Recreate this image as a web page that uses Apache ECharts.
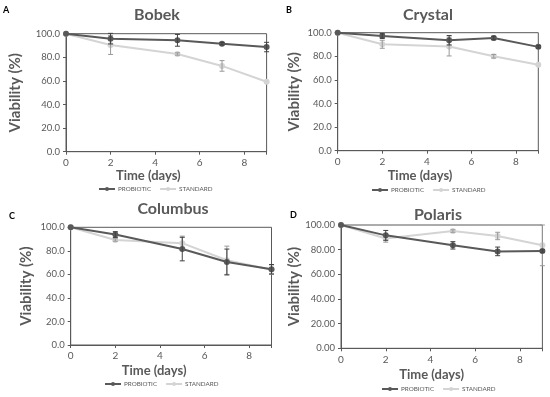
<!DOCTYPE html>
<html><head><meta charset="utf-8">
<script src="https://cdn.jsdelivr.net/npm/echarts@6/dist/echarts.min.js"></script>
<style>html,body{margin:0;padding:0;background:#fff}#c{width:550px;height:397px}</style>
</head><body><div id="c"></div>
<script>
const days = [0, 2, 5, 7, 9];
const xTicks = [0, 2, 4, 6, 8];
const yTicks = [0, 20, 40, 60, 80, 100];
const seriesNames = ['PROBIOTIC', 'STANDARD'];
const panelTitles = ['Bobek', 'Crystal', 'Columbus', 'Polaris'];
const panelLetters = ['A', 'B', 'C', 'D'];

const bobekProbiotic = [100, 95.8, 94.4, 91.5, 88.7];
const bobekProbioticErr = [0, 4.5, 5, 1, 4];
const bobekStandard = [100, 90.4, 82.8, 72.7, 59.3];
const bobekStandardErr = [0, 8, 1, 4.5, 0];

const crystalProbiotic = [100, 97.2, 93.6, 95.5, 88.0];
const crystalProbioticErr = [0, 2, 4, 1.5, 1];
const crystalStandard = [100, 90.2, 88.3, 80.0, 72.9];
const crystalStandardErr = [0, 3.4, 8, 1.5, 0];

const columbusProbiotic = [100, 93.8, 81.5, 70.5, 64.4];
const columbusProbioticErr = [0, 2.5, 10, 11, 4];
const columbusStandard = [100, 89.2, 86.5, 72.0, 64.0];
const columbusStandardErr = [0, 1, 6, 12, 4];

const polarisProbiotic = [100, 91.6, 83.5, 78.6, 78.9];
const polarisProbioticErr = [0, 4, 3, 3.5, 1];
const polarisStandard = [100, 89.1, 95.1, 91.1, 83.5];
const polarisStandardErr = [0, 3, 1, 3, 16.5];

const panels = [
  {p: bobekProbiotic, pe: bobekProbioticErr, s: bobekStandard, se: bobekStandardErr},
  {p: crystalProbiotic, pe: crystalProbioticErr, s: crystalStandard, se: crystalStandardErr},
  {p: columbusProbiotic, pe: columbusProbioticErr, s: columbusStandard, se: columbusStandardErr},
  {p: polarisProbiotic, pe: polarisProbioticErr, s: polarisStandard, se: polarisStandardErr}
];

// layout
const grids = [
  {left: 66, top: 33.7, width: 200.6, height: 118},
  {left: 337.7, top: 32.7, width: 200.6, height: 118},
  {left: 70.7, top: 227.3, width: 200.8, height: 117.7},
  {left: 341, top: 225, width: 201.4, height: 123.3}
];
const yNameGaps = [43, 36, 37, 33];
const xNameGaps = [18, 19, 19, 20];
const xNameShift = [36, 36, 34, 20];
const yDecimals = [1, 1, 1, 2];
const titlePos = [[157, 7], [428, 7], [173, 201], [438, 207]];
const letterPos = [[3, 6], [286, 6], [9, 212], [290, 211]];
const legendLeft = [98, 371, 104, 381];
const legendTop = [186, 187, 381, 386];

const DARK = '#595959', LIGHT = '#d4d4d4', TEXT = '#595959';
const FONT = 'Lato';

const option = {
  backgroundColor: '#fff',
  animation: false,
  textStyle: {fontFamily: FONT},
  title: [],
  legend: [],
  grid: [], xAxis: [], yAxis: [], series: []
};

function errRender(params, api) {
  const x = api.value(0), y = api.value(1), e = api.value(2);
  if (!e) return null;
  const top = api.coord([x, y + e]);
  const bot = api.coord([x, y - e]);
  const cap = 2.5;
  const st = {stroke: api.visual('color'), lineWidth: 1};
  return {
    type: 'group',
    children: [
      {type: 'line', shape: {x1: top[0], y1: top[1], x2: bot[0], y2: bot[1]}, style: st},
      {type: 'line', shape: {x1: top[0] - cap, y1: top[1], x2: top[0] + cap, y2: top[1]}, style: st},
      {type: 'line', shape: {x1: bot[0] - cap, y1: bot[1], x2: bot[0] + cap, y2: bot[1]}, style: st}
    ]
  };
}

panels.forEach((pd, i) => {
  const g = grids[i];
  option.grid.push({left: g.left, top: g.top, width: g.width, height: g.height, show: true, borderColor: DARK, borderWidth: 1, containLabel: false});
  option.title.push({text: panelTitles[i], left: titlePos[i][0], top: titlePos[i][1], textAlign: 'center', padding: 0,
    textStyle: {fontFamily: FONT, fontSize: 16, fontWeight: 'bold', color: TEXT}});
  option.title.push({text: panelLetters[i], left: letterPos[i][0], top: letterPos[i][1], padding: 0,
    textStyle: {fontFamily: FONT, fontSize: 9, fontWeight: 'bold', color: '#000'}});
  option.legend.push({data: seriesNames.slice(), left: legendLeft[i], top: legendTop[i], padding: 0,
    orient: 'horizontal', itemWidth: 16, itemHeight: 5, itemGap: 8,
    textStyle: {fontFamily: FONT, fontSize: 6.3, color: TEXT, padding: [0, 0, 0, -2]}, selectedMode: false});
  option.xAxis.push({
    type: 'value', gridIndex: i, min: 0, max: 9, interval: 2,
    name: 'Time (days)', nameLocation: 'middle', nameGap: xNameGaps[i],
    nameTextStyle: {fontFamily: FONT, fontSize: 13, fontWeight: 'bold', color: TEXT, padding: [0, xNameShift[i], 0, 0]},
    axisLine: {show: true, lineStyle: {color: DARK, width: 1}},
    axisTick: {show: true, length: 3, lineStyle: {color: DARK}},
    axisLabel: {fontFamily: FONT, fontSize: 10, color: TEXT, margin: 6,
      formatter: v => xTicks.indexOf(v) >= 0 ? String(v) : ''},
    splitLine: {show: false}
  });
  option.yAxis.push({
    type: 'value', gridIndex: i, min: 0, max: 100, interval: 20,
    name: 'Viability (%)', nameLocation: 'middle', nameGap: yNameGaps[i],
    nameTextStyle: {fontFamily: FONT, fontSize: 15, fontWeight: 'bold', color: TEXT},
    axisLine: {show: true, lineStyle: {color: DARK, width: 1}},
    axisTick: {show: true, length: 3, lineStyle: {color: DARK}},
    axisLabel: {fontFamily: FONT, fontSize: 9.5, color: TEXT, margin: 6,
      formatter: v => yTicks.indexOf(v) >= 0 ? v.toFixed(yDecimals[i]) : ''},
    splitLine: {show: false}
  });
  const mk = (vals) => days.map((d, k) => [d, vals[k]]);
  const mke = (vals, errs) => days.map((d, k) => [d, vals[k], errs[k]]);
  option.series.push({type: 'custom', xAxisIndex: i, yAxisIndex: i, renderItem: errRender, data: mke(pd.s, pd.se),
    itemStyle: {color: '#9a9a9a'}, z: 3, clip: false, silent: true});
  option.series.push({name: 'STANDARD', type: 'line', xAxisIndex: i, yAxisIndex: i, data: mk(pd.s),
    symbol: 'circle', symbolSize: 6, lineStyle: {color: LIGHT, width: 2}, itemStyle: {color: LIGHT}, z: 2});
  option.series.push({type: 'custom', xAxisIndex: i, yAxisIndex: i, renderItem: errRender, data: mke(pd.p, pd.pe),
    itemStyle: {color: '#404040'}, z: 5, clip: false, silent: true});
  option.series.push({name: 'PROBIOTIC', type: 'line', xAxisIndex: i, yAxisIndex: i, data: mk(pd.p),
    symbol: 'circle', symbolSize: 6, lineStyle: {color: DARK, width: 2}, itemStyle: {color: DARK}, z: 4});
});

const chart = echarts.init(document.getElementById('c'), null, {renderer: 'canvas'});
chart.setOption(option);
</script>
</body></html>
